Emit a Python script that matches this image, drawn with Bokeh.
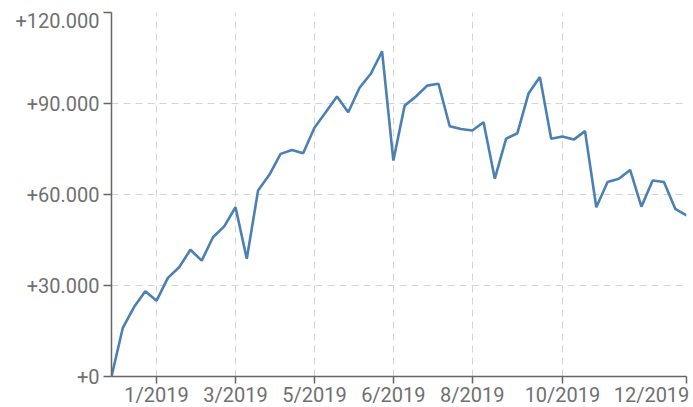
from bokeh.plotting import figure
from bokeh.models import FixedTicker, Range1d
from bokeh.embed import file_html
from bokeh.resources import INLINE

weeks = list(range(52))
values = [0, 16000, 22900, 28100, 25000, 32500, 36000, 41800, 38200, 45900,
          49500, 55800, 38800, 61300, 66500, 73400, 74700, 73600, 82000, 87100,
          92300, 87100, 95200, 99800, 107200, 71200, 89300, 92300, 95900, 96500,
          82500, 81600, 81100, 83800, 65200, 78400, 80200, 93400, 98700, 78400,
          79100, 78100, 80900, 55800, 64100, 65200, 68100, 56000, 64600, 64100,
          55300, 53100]

x_tick_pos = [4, 11, 18, 25, 32, 40, 51]
x_tick_labels = ["1/2019", "3/2019", "5/2019", "6/2019", "8/2019", "10/2019", "12/2019"]
y_tick_pos = [0, 30000, 60000, 90000, 120000]
y_tick_labels = ["+0", "+30.000", "+60.000", "+90.000", "+120.000"]

FONT = "Roboto"
FS = "20px"
LABEL_COLOR = "#707070"
AXIS_COLOR = "#666666"
GRID_COLOR = "#d4d4d4"

W, H = 693, 407
LEFT, RIGHT, TOP, BOTTOM = 111, 7, 12, 31
X0, X1 = 0, 51
Y0, Y1 = 0, 120000

p = figure(width=W, height=H, output_backend="svg", toolbar_location=None,
           x_range=Range1d(X0, X1), y_range=Range1d(Y0, Y1),
           min_border_left=LEFT, min_border_right=RIGHT, min_border_top=TOP,
           min_border_bottom=BOTTOM)
p.outline_line_color = None
p.background_fill_color = "white"

p.line(weeks, values, line_color="#4a80b4", line_width=2.6)

# Edge labels are nudged inward so they stay inside the canvas
# (tick marks and grid lines stay at the true positions).
px_per_x = (W - LEFT - RIGHT) / (X1 - X0)
px_per_y = (H - TOP - BOTTOM) / (Y1 - Y0)
x_label_pos = list(x_tick_pos)
x_label_pos[-1] = round(x_tick_pos[-1] - 35 / px_per_x, 3)
y_label_pos = list(y_tick_pos)
y_label_pos[-1] = round(y_tick_pos[-1] - 8 / px_per_y, 1)

p.xaxis.ticker = FixedTicker(ticks=x_label_pos, minor_ticks=x_tick_pos)
p.xaxis.major_label_overrides = dict(zip(x_label_pos, x_tick_labels))
p.yaxis.ticker = FixedTicker(ticks=y_label_pos, minor_ticks=y_tick_pos)
p.yaxis.major_label_overrides = dict(zip(y_label_pos, y_tick_labels))

for ax in (p.xaxis, p.yaxis):
    ax.axis_line_color = AXIS_COLOR
    ax.axis_line_width = 1.5
    ax.major_tick_line_color = None      # label anchors only
    ax.minor_tick_line_color = AXIS_COLOR  # visible tick marks
    ax.minor_tick_line_width = 1.5
    ax.major_tick_in = 0
    ax.minor_tick_in = 0
    ax.major_label_text_font = FONT
    ax.major_label_text_font_size = FS
    ax.major_label_text_color = LABEL_COLOR
p.xaxis.major_tick_out = 7
p.xaxis.minor_tick_out = 7
p.xaxis.major_label_standoff = -1
p.yaxis.major_tick_out = 8
p.yaxis.minor_tick_out = 8
p.yaxis.major_label_standoff = 4

# blank axis title with a negative standoff: lets the tick labels sit a bit
# lower without shrinking the plot frame
p.xaxis.axis_label = " "
p.xaxis.axis_label_text_font_size = "1px"
p.xaxis.axis_label_standoff = -12

# grids at the true tick positions
p.xgrid.ticker = FixedTicker(ticks=x_tick_pos)
p.ygrid.ticker = FixedTicker(ticks=y_tick_pos)
for g in (p.xgrid, p.ygrid):
    g.grid_line_color = GRID_COLOR
    g.grid_line_dash = "7 5"
    g.grid_line_width = 1

open("out.html", "w").write(file_html(p, INLINE))
